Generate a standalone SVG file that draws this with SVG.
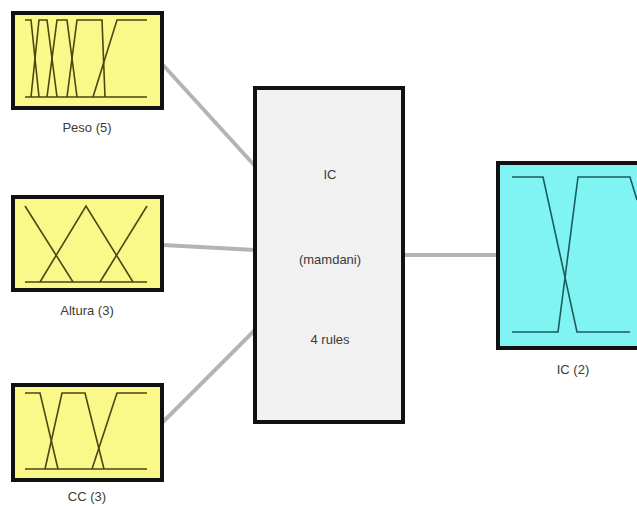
<svg xmlns="http://www.w3.org/2000/svg" width="637" height="506" viewBox="0 0 637 506">
<style>
.in{fill:#fbf88a;stroke:#111;stroke-width:4}
.out{fill:#80f3f3;stroke:#111;stroke-width:4}
.sys{fill:#f1f1f1;stroke:#111;stroke-width:4}
.mfy{fill:none;stroke:#4a4710;stroke-width:1.6}
.mfc{fill:none;stroke:#1c5c5c;stroke-width:1.6}
.conn{stroke:#b4b4b4;stroke-width:4;fill:none}
text{font-family:"Liberation Sans",Arial,sans-serif;font-size:13px;fill:#3a3a3a;text-anchor:middle}
</style>
<rect width="637" height="506" fill="#fff"/>
<g id="connectors">
<line class="conn" x1="163" y1="65" x2="255" y2="166"/>
<line class="conn" x1="163" y1="245" x2="255" y2="250"/>
<line class="conn" x1="163" y1="422" x2="255" y2="330"/>
<line class="conn" x1="403" y1="255" x2="498" y2="255"/>
</g>
<g id="peso">
<rect class="in" x="13" y="13" width="149" height="95"/>
<path class="mfy" d="M25 97H147"/>
<path class="mfy" d="M25 20H31L39 97"/>
<path class="mfy" d="M31 97L39 20H47L57 97"/>
<path class="mfy" d="M47 97L57 20H67L77 97"/>
<path class="mfy" d="M67 97L77 20H102L105 97"/>
<path class="mfy" d="M93 97L117 20H147"/>
<text x="87" y="132">Peso (5)</text>
</g>
<g id="altura">
<rect class="in" x="13" y="197" width="149" height="93"/>
<path class="mfy" d="M25 282H147"/>
<path class="mfy" d="M25 206L73 282"/>
<path class="mfy" d="M40 282L86 206L133 282"/>
<path class="mfy" d="M100 282L147 206"/>
<text x="87" y="315">Altura (3)</text>
</g>
<g id="cc">
<rect class="in" x="13" y="385" width="149" height="95"/>
<path class="mfy" d="M25 469H147"/>
<path class="mfy" d="M25 393H40L58 469"/>
<path class="mfy" d="M45 469L62 393H85L104 469"/>
<path class="mfy" d="M92 469L117 393H147"/>
<text x="87" y="501">CC (3)</text>
</g>
<g id="system">
<rect class="sys" x="255" y="88" width="148" height="334"/>
<text x="330" y="179">IC</text>
<text x="330" y="264">(mamdani)</text>
<text x="330" y="344">4 rules</text>
</g>
<g id="ic-out">
<rect class="out" x="498" y="163" width="145" height="185"/>
<path class="mfc" d="M512 177H543L577 332H630"/>
<path class="mfc" d="M512 332H558L578 177H630L637 200"/>
<text x="573" y="374">IC (2)</text>
</g>
</svg>
